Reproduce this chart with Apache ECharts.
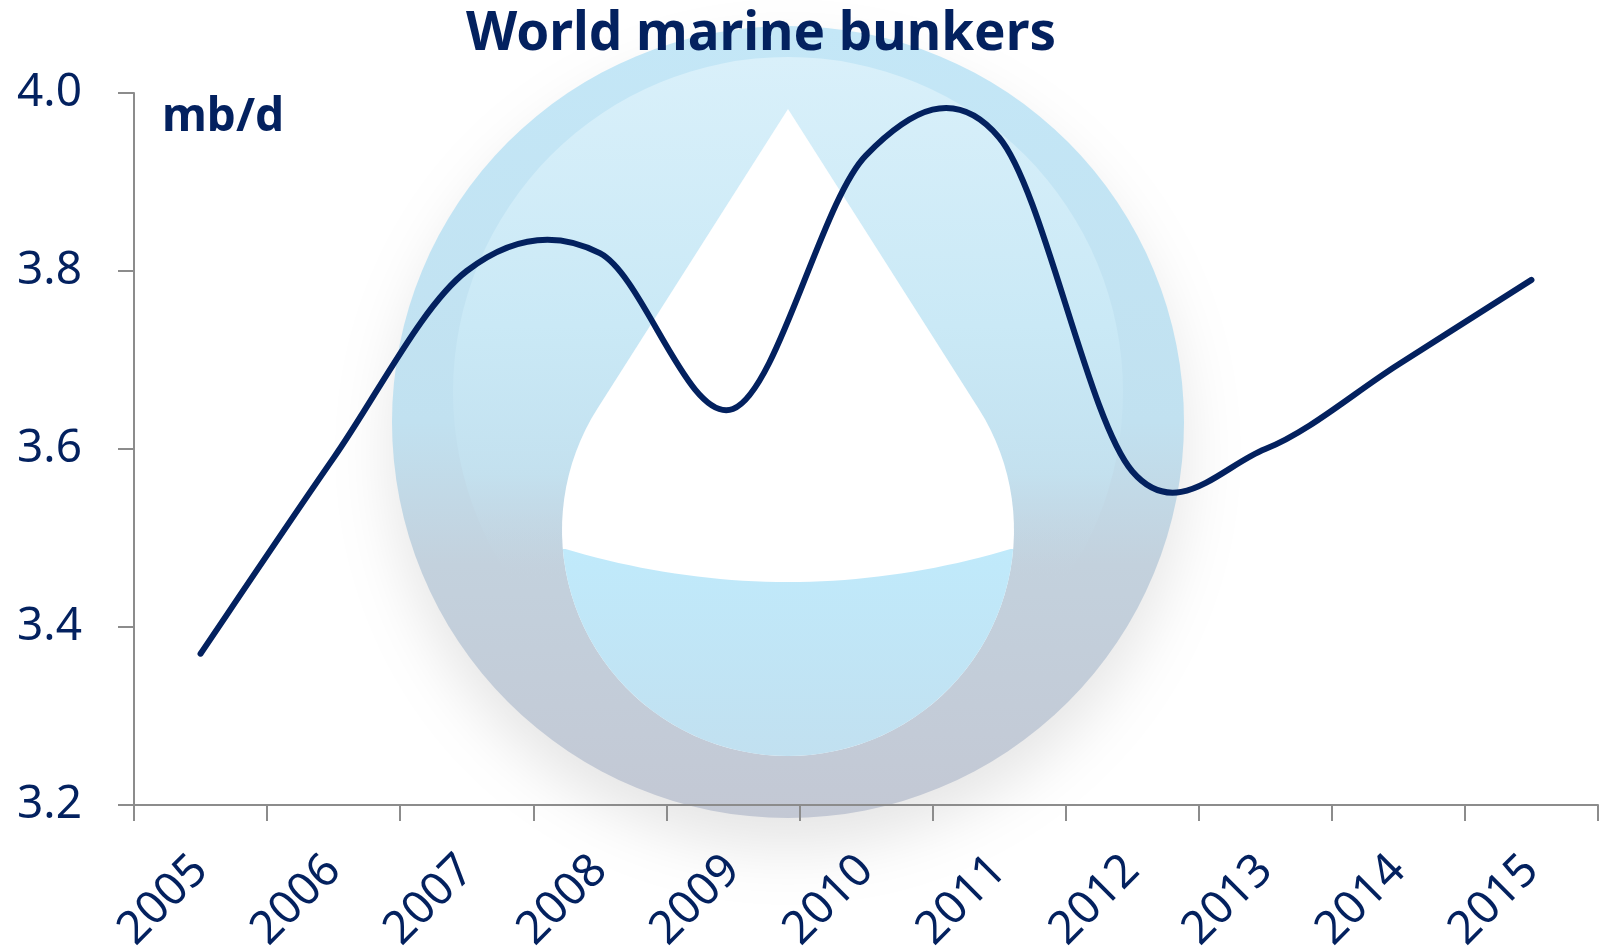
<!DOCTYPE html>
<html>
<head>
<meta charset="utf-8">
<script src="https://cdn.jsdelivr.net/npm/echarts@6/dist/echarts.min.js"></script>
<style>
html,body{margin:0;padding:0;background:#fff;}
#chart{width:1605px;height:952px;}
</style>
</head>
<body>
<div id="chart"></div>
<script>
const years = ['2005','2006','2007','2008','2009','2010','2011','2012','2013','2014','2015'];
const bunkers = [3.37, 3.59, 3.80, 3.82, 3.645, 3.93, 3.95, 3.575, 3.60, 3.695, 3.79];
const yTicks = [3.2, 3.4, 3.6, 3.8, 4.0];
const titleText = 'World marine bunkers';
const unitText = 'mb/d';

const navy = '#03215f';
const font = '"Noto Sans", "Open Sans", sans-serif';

// watermark geometry (decoration only)
function arcPts(cx, cy, r, a0, a1, n) {
  const pts = [];
  for (let i = 0; i <= n; i++) {
    const a = (a0 + (a1 - a0) * i / n) * Math.PI / 180;
    pts.push([cx + r * Math.cos(a), cy + r * Math.sin(a)]);
  }
  return pts;
}
const dcx = 788, dcy = 530, dr = 226, apexY = 109;
const phi = Math.acos(dr / (dcy - apexY)) * 180 / Math.PI;
const dropPts = [[dcx, apexY]].concat(arcPts(dcx, dcy, dr, 180 + (90 - phi), -(90 - phi), 80));
const lowerPts = [];
for (let i = 0; i <= 40; i++) {
  const t = i / 40;
  const x = (1 - t) * (1 - t) * 562 + 2 * (1 - t) * t * 788 + t * t * 1014;
  const y = (1 - t) * (1 - t) * 548 + 2 * (1 - t) * t * 616 + t * t * 548;
  lowerPts.push([x, y]);
}
const lowerPoly = lowerPts.concat(arcPts(dcx, dcy, dr, 4.6, 175.4, 60));

// spline through the data points (positions come from the axes via api.coord)
function renderSpline(params, api) {
  if (params.dataIndex !== 0) return null;
  const pts = bunkers.map((v, i) => api.coord([i, v]));
  const n = pts.length;
  let d = 'M ' + pts[0][0] + ' ' + pts[0][1];
  for (let i = 0; i < n - 1; i++) {
    const p0 = pts[Math.max(i - 1, 0)], p1 = pts[i], p2 = pts[i + 1], p3 = pts[Math.min(i + 2, n - 1)];
    const c1x = p1[0] + (p2[0] - p0[0]) / 6, c1y = p1[1] + (p2[1] - p0[1]) / 6;
    const c2x = p2[0] - (p3[0] - p1[0]) / 6, c2y = p2[1] - (p3[1] - p1[1]) / 6;
    d += ' C ' + c1x + ' ' + c1y + ' ' + c2x + ' ' + c2y + ' ' + p2[0] + ' ' + p2[1];
  }
  return {
    type: 'path',
    shape: { pathData: d },
    style: { fill: 'none', stroke: navy, lineWidth: 6, lineCap: 'round', lineJoin: 'round' }
  };
}

const chart = echarts.init(document.getElementById('chart'));

chart.setOption({
  backgroundColor: '#ffffff',
  animation: false,
  title: {
    text: titleText,
    left: 756,
    textAlign: 'center',
    top: 3,
    textStyle: { fontFamily: font, fontWeight: 'bold', fontSize: 53, color: navy }
  },
  grid: { left: 134, right: 7, top: 93, bottom: 147, containLabel: false, outerBoundsMode: 'none' },
  graphic: [
    {
      type: 'circle', z: -10, silent: true,
      shape: { cx: 788, cy: 422, r: 396 },
      style: {
        fill: { type: 'linear', x: 0, y: 0, x2: 0, y2: 1, colorStops: [
          { offset: 0, color: '#c4e7f7' },
          { offset: 0.5, color: '#c1e1f0' },
          { offset: 0.68, color: '#c3d1dd' },
          { offset: 1, color: '#c3c8d4' }
        ]},
        shadowBlur: 60, shadowColor: 'rgba(0,0,0,0.10)', shadowOffsetY: 30
      }
    },
    {
      type: 'circle', z: -9, silent: true,
      shape: { cx: 788, cy: 392, r: 335 },
      style: {
        fill: { type: 'linear', x: 0, y: 0, x2: 0, y2: 1, colorStops: [
          { offset: 0, color: '#d9f0fa' },
          { offset: 0.4, color: '#cae9f6' },
          { offset: 0.62, color: 'rgba(196,226,240,0.8)' },
          { offset: 0.78, color: 'rgba(196,210,222,0)' },
          { offset: 1, color: 'rgba(196,210,222,0)' }
        ]}
      }
    },
    {
      type: 'polygon', z: -8, silent: true,
      shape: { points: dropPts },
      style: { fill: '#ffffff' }
    },
    {
      type: 'polygon', z: -7, silent: true,
      shape: { points: lowerPoly },
      style: {
        fill: { type: 'linear', x: 0, y: 0, x2: 0, y2: 1, colorStops: [
          { offset: 0, color: '#c0eafb' },
          { offset: 1, color: '#c1e0f0' }
        ]}
      }
    },
    {
      type: 'text', z: 5, silent: true,
      left: 162, top: 95,
      style: { text: unitText, font: 'bold 46px ' + font, fill: navy }
    }
  ],
  xAxis: {
    type: 'category',
    data: years,
    boundaryGap: true,
    axisLine: { show: true, lineStyle: { color: '#8c8c8c', width: 2 } },
    axisTick: { show: true, length: 16, interval: 0, lineStyle: { color: '#8c8c8c', width: 2 } },
    axisLabel: { interval: 0, rotate: 45, margin: 58, fontFamily: font, fontSize: 46, color: navy },
    splitLine: { show: false }
  },
  yAxis: {
    type: 'value',
    min: yTicks[0],
    max: yTicks[yTicks.length - 1],
    interval: 0.2,
    axisLine: { show: true, lineStyle: { color: '#8c8c8c', width: 2 } },
    axisTick: { show: true, length: 16, lineStyle: { color: '#8c8c8c', width: 2 } },
    axisLabel: { margin: 52, fontFamily: font, fontSize: 46, color: navy,
      formatter: v => v.toFixed(1) },
    splitLine: { show: false }
  },
  series: [{
    type: 'custom',
    data: bunkers.map((v, i) => [i, v]),
    encode: { x: 0, y: 1 },
    renderItem: renderSpline,
    clip: false,
    z: 3
  }]
});
</script>
</body>
</html>
